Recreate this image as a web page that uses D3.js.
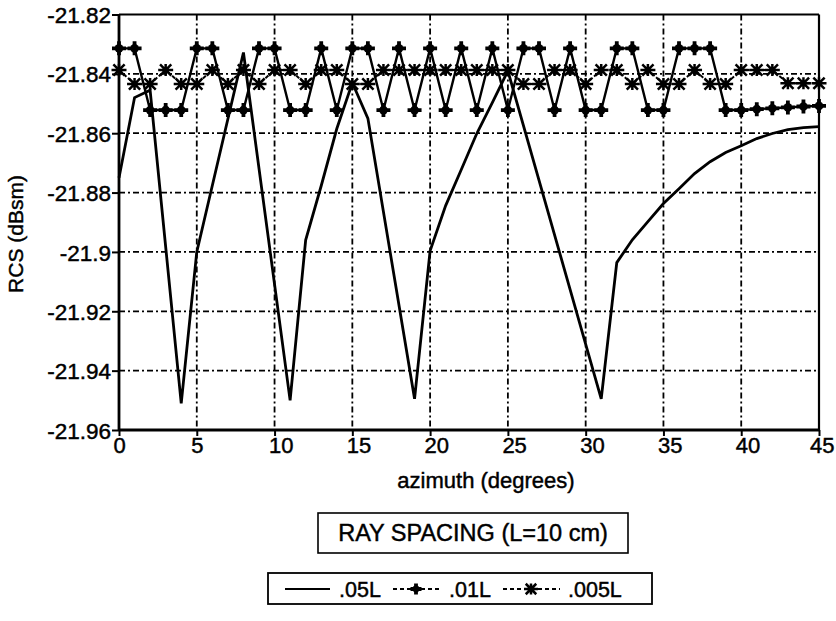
<!DOCTYPE html>
<html><head><meta charset="utf-8">
<script src="https://cdn.jsdelivr.net/npm/d3@7/dist/d3.min.js"></script>
<style>
html,body{margin:0;padding:0;background:#fff;}
text{font-family:"Liberation Sans",Arial,Helvetica,sans-serif;fill:#000;stroke:#000;stroke-width:0.45px;}
</style></head>
<body>
<svg id="chart" width="836" height="621"></svg>
<script>
// ---- data ----
const xTicks = [0,5,10,15,20,25,30,35,40,45];
const yTicks = [-21.96,-21.94,-21.92,-21.9,-21.88,-21.86,-21.84,-21.82];
const yTickLabels = ["-21.96","-21.94","-21.92","-21.9","-21.88","-21.86","-21.84","-21.82"];

// .05L (solid line) vertices
const az05 = [0,1,2,4,5,8,11,12,13,14,15,16,19,20,21,22,23,24,25,31,32,33,34,35,36,37,38,39,40,41,42,43,44,45];
const rcs05 = [-21.875,-21.848,-21.8455,-21.951,-21.900,-21.8328,-21.950,-21.896,-21.8777,-21.8585,-21.843,-21.855,
  -21.9495,-21.8996,-21.8844,-21.8723,-21.8601,-21.8497,-21.8390,-21.9495,-21.9036,-21.8959,-21.8898,-21.8837,
  -21.8787,-21.8736,-21.8696,-21.8665,-21.8642,-21.8618,-21.8601,-21.8588,-21.8581,-21.8578];

// .01L and .005L sampled every degree
const az = [0,1,2,3,4,5,6,7,8,9,10,11,12,13,14,15,16,17,18,19,20,21,22,23,24,25,26,27,28,29,30,31,32,33,34,35,36,37,38,39,40,41,42,43,44,45];
const rcs01 = [-21.8314,-21.8314,-21.8522,-21.8522,-21.8522,-21.8314,-21.8314,-21.8522,-21.8522,-21.8314,
  -21.8314,-21.8522,-21.8522,-21.8314,-21.8522,-21.8314,-21.8314,-21.8522,-21.8314,-21.8522,
  -21.8314,-21.8522,-21.8314,-21.8522,-21.8314,-21.8522,-21.8314,-21.8314,-21.8522,-21.8314,
  -21.8522,-21.8522,-21.8314,-21.8314,-21.8522,-21.8522,-21.8314,-21.8314,-21.8314,-21.8522,
  -21.8522,-21.8519,-21.8516,-21.8513,-21.8510,-21.8508];
const rcs005 = [-21.8387,-21.8434,-21.8434,-21.8387,-21.8434,-21.8434,-21.8387,-21.8434,-21.8387,-21.8434,
  -21.8387,-21.8387,-21.8434,-21.8387,-21.8387,-21.8434,-21.8434,-21.8387,-21.8387,-21.8387,
  -21.8387,-21.8387,-21.8387,-21.8387,-21.8387,-21.8387,-21.8434,-21.8434,-21.8387,-21.8387,
  -21.8434,-21.8387,-21.8387,-21.8434,-21.8387,-21.8434,-21.8434,-21.8387,-21.8434,-21.8434,
  -21.8387,-21.8387,-21.8387,-21.8432,-21.8432,-21.8432];

const seriesNames = [".05L",".01L",".005L"];
const xTitle = "azimuth (degrees)";
const yTitle = "RCS (dBsm)";
const boxTitle = "RAY SPACING (L=10 cm)";

// ---- drawing ----
const svg = d3.select("#chart");
const L=119, R=819, T=14.5, B=430;
const x = d3.scaleLinear().domain([0,45]).range([L,R]);
const y = d3.scaleLinear().domain([-21.96,-21.82]).range([B,T]);

// grid
const g = svg.append("g");
g.selectAll(".vg").data(xTicks.slice(1,-1)).enter().append("line")
  .attr("x1",d=>x(d)).attr("x2",d=>x(d)).attr("y1",T).attr("y2",B)
  .attr("stroke","#000").attr("stroke-width",1.8).attr("stroke-dasharray","6,3,2,3");
g.selectAll(".hg").data(yTicks.slice(1,-1)).enter().append("line")
  .attr("x1",L).attr("x2",R).attr("y1",d=>y(d)).attr("y2",d=>y(d))
  .attr("stroke","#000").attr("stroke-width",1.8).attr("stroke-dasharray","6,3,2,3");

// axes
const yAxis = d3.axisLeft(y).tickValues(yTicks).tickSize(7).tickFormat((d,i)=>yTickLabels[i]);
const ya = svg.append("g").attr("transform",`translate(${L},0)`).call(yAxis);
ya.select(".domain").attr("stroke","#000").attr("stroke-width",2.8).attr("d",`M0,${T}V${B}`);
ya.selectAll(".tick line").attr("stroke","#000").attr("stroke-width",2);
ya.selectAll(".tick text").attr("x",-8).attr("dy","0.36em").style("font-size","22.5px").style("font-family","Liberation Sans, Arial, sans-serif");

const xAxis = d3.axisBottom(x).tickValues(xTicks).tickSize(6).tickFormat(d=>String(d));
const xa = svg.append("g").attr("transform",`translate(0,${B})`).call(xAxis);
xa.select(".domain").attr("stroke","#000").attr("stroke-width",2.8).attr("d",`M${L},0H${R}`);
xa.selectAll(".tick line").attr("stroke","#000").attr("stroke-width",2);
xa.selectAll(".tick text").attr("y",7).attr("dy","0.71em")
  .attr("text-anchor",(d,i)=> i===xTicks.length-1 ? "end" : "start")
  .attr("x",(d,i)=> i===xTicks.length-1 ? 15 : -6)
  .style("font-size","22px").style("font-family","Liberation Sans, Arial, sans-serif");

// frame top & right
svg.append("line").attr("x1",L).attr("x2",R).attr("y1",T).attr("y2",T).attr("stroke","#000").attr("stroke-width",2.2);
svg.append("line").attr("x1",R).attr("x2",R).attr("y1",T).attr("y2",B).attr("stroke","#000").attr("stroke-width",2.2);

// series
const line = d3.line().x(d=>x(d[0])).y(d=>y(d[1]));
const d05 = az05.map((a,i)=>[a,rcs05[i]]);
const d01 = az.map((a,i)=>[a,rcs01[i]]);
const d005 = az.map((a,i)=>[a,rcs005[i]]);

svg.append("path").datum(d005).attr("d",line).attr("fill","none").attr("stroke","#000").attr("stroke-width",2).attr("stroke-dasharray","4,2");
svg.append("path").datum(d01).attr("d",line).attr("fill","none").attr("stroke","#000").attr("stroke-width",2.4);
svg.append("path").datum(d05).attr("d",line).attr("fill","none").attr("stroke","#000").attr("stroke-width",2.8).attr("stroke-linejoin","miter");

function plusMarker(sel,cx,cy,s){
  const gg = sel.append("g").attr("transform",`translate(${cx},${cy})`);
  gg.append("path").attr("d",`M${-s},0H${s}M0,${-s}V${s}`).attr("stroke","#000").attr("stroke-width",3.8);
  gg.append("circle").attr("r",s*0.62).attr("fill","#000");
}
function starMarker(sel,cx,cy,s){
  const gg = sel.append("g").attr("transform",`translate(${cx},${cy})`);
  const k = s*0.75;
  gg.append("path").attr("d",`M${-s},0H${s}M0,${-s*0.8}V${s*0.8}M${-k},${-k}L${k},${k}M${-k},${k}L${k},${-k}`)
    .attr("stroke","#000").attr("stroke-width",2.5);
}
const mk = svg.append("g");
d01.forEach(d=>plusMarker(mk,x(d[0]),y(d[1]),7));
d005.forEach(d=>starMarker(mk,x(d[0]),y(d[1]),7.5));

// axis titles
svg.append("text").attr("x",486).attr("y",488).attr("text-anchor","middle").style("font-size","22px").text(xTitle);
svg.append("text").attr("transform","translate(23,234) rotate(-90)").attr("text-anchor","middle").style("font-size","21px").text(yTitle);

// title box
svg.append("rect").attr("x",318).attr("y",513).attr("width",310).attr("height",40).attr("fill","none").attr("stroke","#000").attr("stroke-width",1.6);
svg.append("text").attr("x",473).attr("y",541).attr("text-anchor","middle").style("font-size","23.5px").text(boxTitle);

// legend
const lg = svg.append("g");
lg.append("rect").attr("x",268).attr("y",573).attr("width",384).attr("height",31).attr("fill","none").attr("stroke","#000").attr("stroke-width",1.8);
const ly = 589;
lg.append("line").attr("x1",285).attr("x2",330).attr("y1",ly).attr("y2",ly).attr("stroke","#000").attr("stroke-width",2);
lg.append("text").attr("x",339).attr("y",ly+7.5).style("font-size","21.5px").text(seriesNames[0]);
lg.append("line").attr("x1",393).attr("x2",440).attr("y1",ly).attr("y2",ly).attr("stroke","#000").attr("stroke-width",2).attr("stroke-dasharray","4,3");
plusMarker(lg,416,ly,5.5);
lg.append("text").attr("x",449).attr("y",ly+7.5).style("font-size","21.5px").text(seriesNames[1]);
lg.append("line").attr("x1",503).attr("x2",560).attr("y1",ly).attr("y2",ly).attr("stroke","#000").attr("stroke-width",2).attr("stroke-dasharray","4,3");
starMarker(lg,531,ly,7);
lg.append("text").attr("x",568).attr("y",ly+7.5).style("font-size","21.5px").text(seriesNames[2]);
</script>
</body></html>
